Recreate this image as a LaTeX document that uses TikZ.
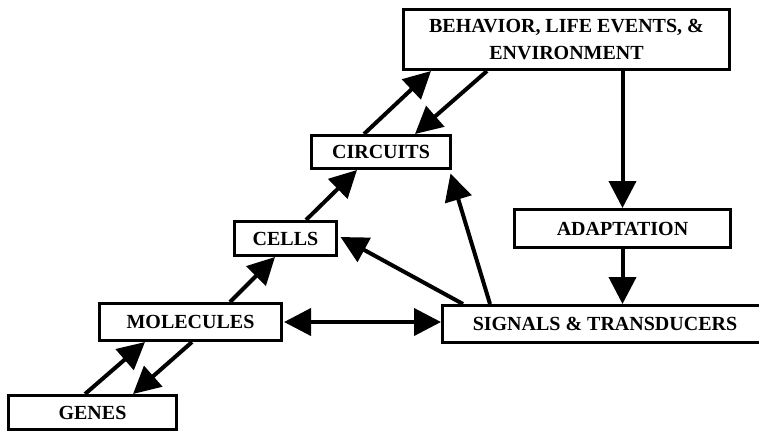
\documentclass[tikz,border=0pt]{standalone}
\usepackage{fontspec}
\setmainfont{Liberation Serif}
\usetikzlibrary{arrows.meta}
\begin{document}
\begin{tikzpicture}[x=1pt,y=-1pt,
  box/.style={draw=black, line width=3pt, fill=white, inner sep=0pt,
    font=\bfseries\fontsize{20}{27}\selectfont, align=center},
  conn/.style={line width=4pt, -{Triangle[length=27pt,width=27pt]}},
  both/.style={line width=4pt, {Triangle[length=27pt,width=27pt]}-{Triangle[length=27pt,width=27pt]}}]
\fill[white] (0,0) rectangle (759,434);
\useasboundingbox (0,0) rectangle (759,434);
\node[box, minimum width=168pt, minimum height=34pt] (genes) at (92.5,412.5) {GENES};
\node[box, minimum width=182pt, minimum height=37pt] (molecules) at (190.5,322) {MOLECULES};
\node[box, minimum width=102pt, minimum height=34pt] (cells) at (285.5,238.5) {CELLS};
\node[box, minimum width=139pt, minimum height=33pt] (circuits) at (381,152) {CIRCUITS};
\node[box, minimum width=326pt, minimum height=60pt] (behavior) at (566.5,39.5) {BEHAVIOR, LIFE EVENTS, \&\\ENVIRONMENT};
\node[box, minimum width=216pt, minimum height=38pt] (adaptation) at (622.5,228.5) {ADAPTATION};
\node[box, minimum width=325pt, minimum height=37pt] (signals) at (605,324) {SIGNALS \& TRANSDUCERS};
\draw[conn] ([xshift=-7.5pt]genes.north) -- ([xshift=-45.5pt]molecules.south);
\draw[conn] ([xshift=1.5pt]molecules.south) -- ([xshift=40.5pt]genes.north);
\draw[conn] ([xshift=39.5pt]molecules.north) -- ([xshift=-10.5pt]cells.south);
\draw[conn] ([xshift=20.5pt]cells.north) -- ([xshift=-24pt]circuits.south);
\draw[conn] ([xshift=-17pt]circuits.north) -- ([xshift=-135.5pt]behavior.south);
\draw[conn] ([xshift=-79.5pt]behavior.south) -- ([xshift=34pt]circuits.north);
\draw[conn] (adaptation.north |- behavior.south) -- (adaptation.north);
\draw[conn] (adaptation.south) -- (adaptation.south |- signals.north);
\draw[conn] ([xshift=-142pt]signals.north) -- ([xshift=2.5pt,yshift=1.5pt]cells.east);
\draw[conn] ([xshift=-115pt]signals.north) -- ([xshift=-1.5pt,yshift=-3.5pt]circuits.south east);
\draw[both] ([xshift=1pt]molecules.east) -- (molecules.east -| signals.west);
\end{tikzpicture}
\end{document}
